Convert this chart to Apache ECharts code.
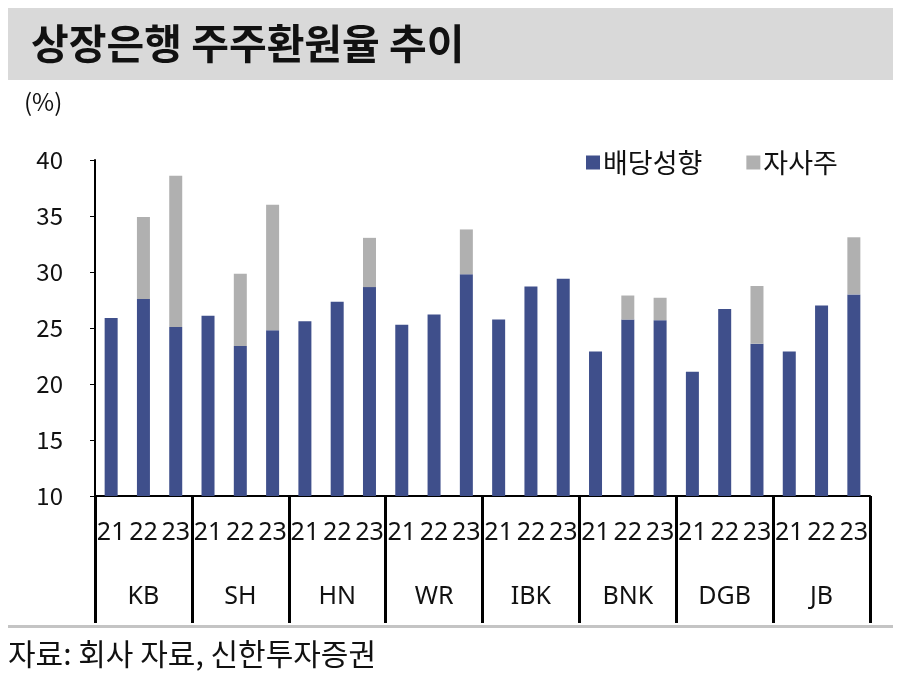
<!DOCTYPE html>
<html>
<head>
<meta charset="utf-8">
<script src="https://cdn.jsdelivr.net/npm/echarts@6/dist/echarts.min.js"></script>
<style>
  html, body { margin: 0; padding: 0; background: #fff; }
  #chart { width: 900px; height: 698px; }
</style>
</head>
<body>
<div id="chart"></div>
<script>
// 은행 / 연도
const banks = ['KB', 'SH', 'HN', 'WR', 'IBK', 'BNK', 'DGB', 'JB'];
const years = ['21', '22', '23'];
const yTicks = [10, 15, 20, 25, 30, 35, 40];

// 배당성향 (%)
const dividend = [
  25.9, 27.6, 25.1,
  26.1, 23.4, 24.8,
  25.6, 27.35, 28.65,
  25.3, 26.2, 29.8,
  25.75, 28.7, 29.4,
  22.9, 25.75, 25.7,
  21.1, 26.7, 23.6,
  22.9, 27.0, 28.0
];
// 자사주 (%p, 배당성향 위에 쌓임)
const buyback = [
  0, 7.3, 13.5,
  0, 6.45, 11.2,
  0, 0, 4.4,
  0, 0, 4.0,
  0, 0, 0,
  0, 2.15, 2.0,
  0, 0, 5.15,
  0, 0, 5.1
];

const cats = [];
banks.forEach(b => years.forEach(y => cats.push(b + '-' + y)));

const KR = '"Noto Sans CJK KR", "Noto Sans", sans-serif';
const NARROW = '"Liberation Sans Narrow", "Noto Sans", sans-serif';

const chart = echarts.init(document.getElementById('chart'));
chart.setOption({
  animation: false,
  backgroundColor: '#fff',
  grid: { left: 95, right: 30, top: 160, bottom: 202 },
  legend: {
    left: 581, top: 144,
    itemWidth: 14, itemHeight: 14, itemGap: 44,
    icon: 'rect',
    textStyle: { fontFamily: KR, fontSize: 27, color: '#111', padding: [0, 0, 0, -2] },
    data: ['배당성향', '자사주']
  },
  xAxis: [
    {
      type: 'category',
      data: cats,
      axisLine: { lineStyle: { color: '#000', width: 2 } },
      axisTick: { show: false },
      axisLabel: {
        interval: 0, margin: 24, color: '#111',
        fontFamily: NARROW, fontSize: 25,
        formatter: v => v.split('-')[1]
      }
    },
    {
      type: 'category',
      data: banks,
      position: 'bottom',
      axisLine: { show: false },
      axisTick: { show: true, length: 127, lineStyle: { color: '#000', width: 3 } },
      axisLabel: { interval: 0, margin: 88, color: '#111', fontFamily: NARROW, fontSize: 25 }
    }
  ],
  yAxis: {
    type: 'value',
    min: 10, max: 40, interval: 5,
    splitLine: { show: false },
    axisLine: { show: true, lineStyle: { color: '#000', width: 2 } },
    axisTick: { show: true, length: 5, lineStyle: { color: '#000' } },
    axisLabel: {
      margin: 32, color: '#111', fontFamily: KR, fontSize: 24,
      formatter: v => yTicks.includes(v) ? String(v) : ''
    }
  },
  series: [
    {
      name: '배당성향', type: 'bar', stack: 'total', barWidth: 13,
      itemStyle: { color: '#3f4f8b' },
      data: dividend
    },
    {
      name: '자사주', type: 'bar', stack: 'total', barWidth: 13,
      itemStyle: { color: '#b0b0b0' },
      data: buyback
    }
  ],
  graphic: [
    { type: 'rect', left: 8, top: 8, shape: { width: 885, height: 72 }, style: { fill: '#d9d9d9' } },
    { type: 'text', left: 31, top: 23,
      style: { text: '상장은행 주주환원율 추이', font: 'bold 41px "Noto Sans CJK KR"', fill: '#111' } },
    { type: 'text', left: 24, top: 90,
      style: { text: '(%)', font: '24px "Noto Sans CJK KR"', fill: '#111' } },
    { type: 'rect', left: 8, top: 625, shape: { width: 885, height: 3 }, style: { fill: '#c4c4c4' } },
    { type: 'text', left: 8, top: 639,
      style: { text: '자료: 회사 자료, 신한투자증권', font: '30px "Noto Sans CJK KR"', fill: '#111' } }
  ]
});
</script>
</body>
</html>
